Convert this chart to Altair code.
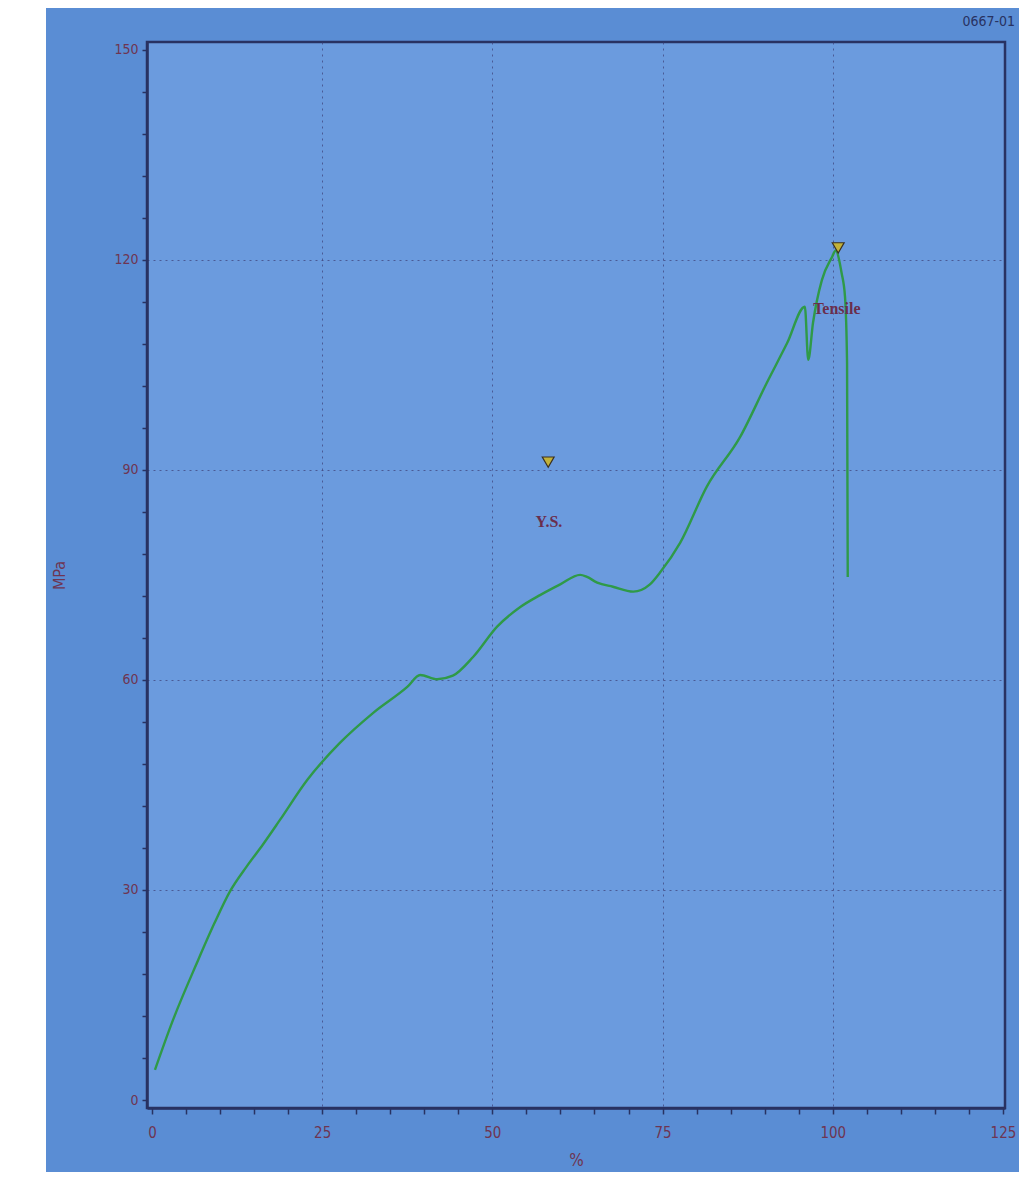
import altair as alt
import pandas as pd

# ---- data ----
strain = [0.44, 3.08, 6.61, 9.2, 11.46, 13.95, 16.3, 18.8, 22.8, 27.6, 32.5, 37.5,
          39.4, 41.9, 44.2, 47.2, 50.7, 54.1, 57.0, 59.9, 62.9, 63.9, 65.4, 67.7,
          70.7, 73.1, 74.6, 77.6, 81.5, 86.4, 90.3, 93.3, 95.9, 96.4, 97.1, 98.4,
          99.9, 100.4, 101.3, 101.8, 102.1, 102.2]
stress = [4.3, 11.4, 19.6, 25.3, 29.8, 33.4, 36.5, 40.0, 45.7, 51.0, 55.3, 59.0,
          60.7, 60.1, 60.6, 63.3, 67.6, 70.4, 72.1, 73.6, 75.0, 74.7, 73.9, 73.3,
          72.6, 73.6, 75.3, 79.6, 87.6, 94.7, 102.4, 108.1, 113.3, 105.7, 111.0, 117.1,
          120.4, 121.3, 118.1, 114.7, 105.3, 74.7]

marker_x = [58.2, 100.8]
marker_y = [91.1, 121.7]
label_text = ["Y.S.", "Tensile"]
label_x = [58.3, 100.6]
label_y = [82.6, 112.9]
sample_id = ["0667-01"]

x_ticks = list(range(0, 130, 5))
y_ticks = list(range(0, 151, 6))

W, H = 858, 1066
OUTER_BLUE = "#5a8dd4"
INNER_BLUE = "#6b9bde"
NAVY = "#283262"
MAROON = "#6e3552"
FONT = "Liberation Sans Narrow, DejaVu Sans Condensed, sans-serif"

curve = pd.DataFrame({"x": strain, "y": stress, "i": range(len(strain))})
markers = pd.DataFrame({"x": marker_x, "y": marker_y})
labels = pd.DataFrame({"x": label_x, "y": label_y, "t": label_text})
ident = pd.DataFrame({"t": sample_id})

xscale = alt.Scale(domain=[-0.73, 125.3], nice=False, zero=False)
yscale = alt.Scale(domain=[-1.14, 151.1], nice=False, zero=False)

xaxis = alt.Axis(
    values=x_ticks, title="%", labelOverlap=False,
    labelExpr="datum.value % 25 === 0 ? datum.label : ''",
    grid=True, gridDash=[2, 4], gridColor="#3c3f78", gridWidth=1,
    gridOpacity={"condition": {"test": "datum.value % 25 === 0 && datum.value > 0 && datum.value < 125", "value": 0.7}, "value": 0},
    tickSize=6, tickColor=NAVY, tickWidth=1.5,
    domainColor=NAVY, domainWidth=2.5,
    labelColor=MAROON, labelFont=FONT, labelFontSize=15, labelPadding=11,
    titleColor=MAROON, titleFont=FONT, titleFontSize=17, titleFontWeight="normal",
    titleY=44,
)
yaxis = alt.Axis(
    values=y_ticks, title="MPa", labelOverlap=False,
    labelExpr="datum.value % 30 === 0 ? datum.label : ''",
    grid=True, gridDash=[2, 4], gridColor="#3c3f78", gridWidth=1,
    gridOpacity={"condition": {"test": "datum.value % 30 === 0 && datum.value > 0 && datum.value < 150", "value": 0.7}, "value": 0},
    tickSize=5, tickColor=NAVY, tickWidth=1.5,
    domainColor=NAVY, domainWidth=2.5,
    labelColor=MAROON, labelFont=FONT, labelFontSize=14, labelPadding=4,
    titleColor=MAROON, titleFont=FONT, titleFontSize=16, titleFontWeight="normal",
    titleX=-80,
)

# white strip at the left of the photo
strip = alt.Chart(pd.DataFrame({"a": [0]})).mark_rect(color="white").encode(
    x=alt.value(-139), x2=alt.value(-101), y=alt.value(-34), y2=alt.value(H + 70)
)

ident_text = alt.Chart(ident).mark_text(
    font=FONT, fontSize=14, color=NAVY, align="right", baseline="middle",
).encode(x=alt.value(W + 10), y=alt.value(-20), text="t:N")

line = alt.Chart(curve).mark_line(color="#2f9a48", strokeWidth=2.4, interpolate="monotone").encode(
    x=alt.X("x:Q", scale=xscale, axis=xaxis),
    y=alt.Y("y:Q", scale=yscale, axis=yaxis),
    order="i:Q",
)

pts = alt.Chart(markers).mark_point(
    shape="triangle-down", size=140, filled=True, fill="#c2b23a",
    stroke="#3a3020", strokeWidth=1.2, opacity=1,
).encode(x=alt.X("x:Q", scale=xscale, axis=xaxis), y=alt.Y("y:Q", scale=yscale, axis=yaxis))

txt = alt.Chart(labels).mark_text(
    font="Liberation Serif, DejaVu Serif, serif", fontSize=16, fontWeight="bold",
    color="#6a2e4c",
).encode(x=alt.X("x:Q", scale=xscale, axis=xaxis), y=alt.Y("y:Q", scale=yscale, axis=yaxis), text="t:N")

chart = alt.layer(strip, ident_text, line, pts, txt).properties(
    width=W, height=H,
    autosize=alt.AutoSizeParams(type="none"),
    padding={"left": 139, "top": 34, "right": 14, "bottom": 64},
    background=OUTER_BLUE,
).configure_view(
    fill=INNER_BLUE, stroke=NAVY, strokeWidth=2.5,
)

chart.save("out.html", embed_options={"renderer": "svg", "actions": False})
